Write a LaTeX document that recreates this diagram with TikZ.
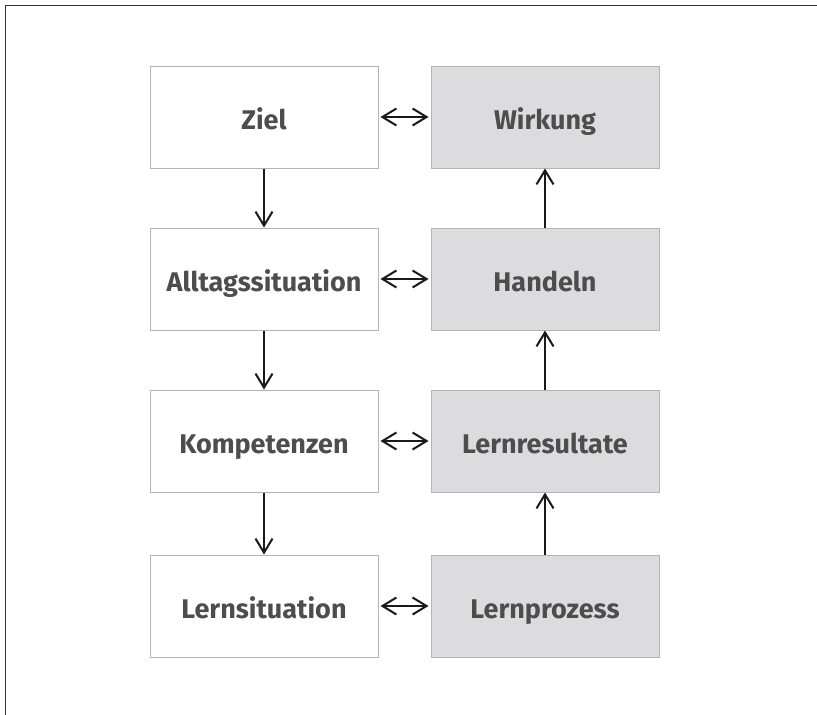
\documentclass[tikz,border=0pt]{standalone}
\usepackage{fontspec}
\setmainfont{Fira Sans}
\usetikzlibrary{arrows.meta}
\definecolor{boxline}{HTML}{B4B4B4}
\definecolor{boxfill}{HTML}{DCDCDE}
\definecolor{txt}{HTML}{4D4D4D}
\definecolor{frame}{HTML}{333333}
\begin{document}
\begin{tikzpicture}[x=1pt,y=-1pt,
  box/.style={draw=boxline,line width=1pt,minimum width=228pt,minimum height=102pt,
    inner sep=0pt,text height=30pt,text depth=6pt,
    font=\fontsize{27}{31}\selectfont\bfseries,text=txt},
  wbox/.style={box,fill=white},
  gbox/.style={box,fill=boxfill},
  tip/.style={Straight Barb[length=14pt,width=17pt,line width=2pt]},
  conn/.style={line width=2.5pt,draw=black!90,-{Straight Barb[length=14pt,width=17pt,line width=2pt]}},
  dconn/.style={line width=2.5pt,draw=black!90,{Straight Barb[length=14pt,width=17pt,line width=2pt]}-{Straight Barb[length=14pt,width=17pt,line width=2pt]},shorten <=2pt,shorten >=2pt}]
\useasboundingbox (0,0) rectangle (817,715);
\draw[frame,line width=1.5pt] (5.5,715) -- (5.5,5.5) -- (817,5.5);
\node[wbox] (ziel) at (264,117) {Ziel};
\node[wbox] (all) at (264,279) {Alltagssituation};
\node[wbox] (komp) at (264,441) {Kompetenzen};
\node[wbox] (lsit) at (264,606) {Lernsituation};
\node[gbox] (wirk) at (545,117) {Wirkung};
\node[gbox] (hand) at (545,279) {Handeln};
\node[gbox] (lres) at (545,441) {Lernresultate};
\node[gbox] (lproz) at (545,606) {Lernprozess};
\draw[conn] (ziel) -- (all);
\draw[conn] (all) -- (komp);
\draw[conn] (komp) -- (lsit);
\draw[conn] (lproz) -- (lres);
\draw[conn] (lres) -- (hand);
\draw[conn] (hand) -- (wirk);
\draw[dconn] (ziel) -- (wirk);
\draw[dconn] (all) -- (hand);
\draw[dconn] (komp) -- (lres);
\draw[dconn] (lsit) -- (lproz);
\end{tikzpicture}
\end{document}
